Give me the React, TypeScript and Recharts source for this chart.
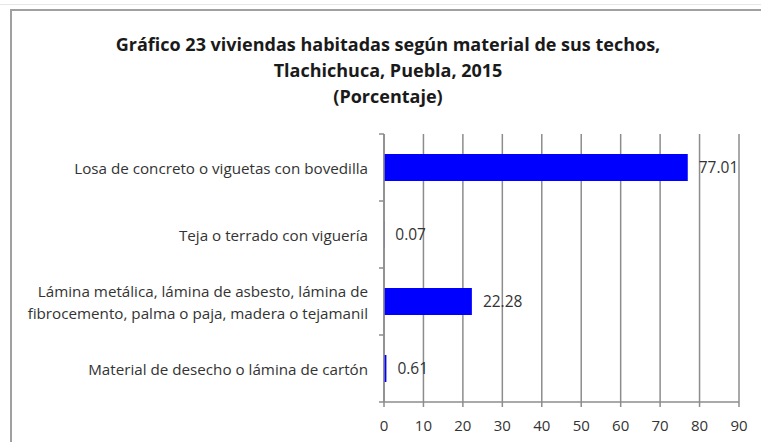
import React from "react";
import { BarChart, Bar, XAxis, YAxis, CartesianGrid, LabelList } from "recharts";

const categories = [
  "Losa de concreto o viguetas con bovedilla",
  "Teja o terrado con viguería",
  "Lámina metálica, lámina de asbesto, lámina de\nfibrocemento, palma o paja, madera o tejamanil",
  "Material de desecho o lámina de cartón",
];
const values = [77.01, 0.07, 22.28, 0.61];
const xTicks = [0, 10, 20, 30, 40, 50, 60, 70, 80, 90];
const titleLines = [
  "Gráfico 23 viviendas habitadas según material de sus techos,",
  "Tlachichuca, Puebla, 2015",
  "(Porcentaje)",
];

const data = categories.map((c, i) => ({ name: c, value: values[i] }));

const W = 761;
const H = 442;
const M = { top: 134, right: 22, bottom: 0, left: 0 };
const Y_W = 384;
const X_H = 40;
const plotH = H - M.top - M.bottom - X_H;
const halfBand = plotH / categories.length / 2;
const FONT = "'Open Sans', sans-serif";
const AXIS = "#8c8c8c";

const CatTick = (props: any) => {
  const { y, payload, index } = props;
  const lines = String(payload.value).split("\n");
  const lh = 22;
  const start = y - ((lines.length - 1) * lh) / 2;
  const ax = Y_W + M.left;
  return (
    <g>
      <line x1={ax - 5} x2={ax} y1={y - halfBand} y2={y - halfBand} stroke={AXIS} strokeWidth={1.5} />
      {index === categories.length - 1 && (
        <line x1={ax - 5} x2={ax} y1={y + halfBand} y2={y + halfBand} stroke={AXIS} strokeWidth={1.5} />
      )}
      <text x={ax - 16} y={start} textAnchor="end" dominantBaseline="central" fontFamily={FONT} fontSize={15.2} fill="#333">
        {lines.map((l, i) => (
          <tspan key={i} x={ax - 16} dy={i === 0 ? 0 : lh}>
            {l}
          </tspan>
        ))}
      </text>
    </g>
  );
};

export default function App() {
  return (
    <div style={{ position: "absolute", left: 0, top: 0, width: W, height: H, background: "#fff", overflow: "hidden" }}>
      <div style={{ position: "absolute", left: 0, top: 4, width: W, height: 1, background: "#e6e6e6" }} />
      <div
        style={{
          position: "absolute",
          left: 10,
          top: 9,
          width: W,
          height: H,
          borderLeft: "2px solid #a0a0a0",
          borderTop: "2px solid #a0a0a0",
        }}
      />
      <div
        style={{
          position: "absolute",
          left: 0,
          top: 31,
          width: 776,
          textAlign: "center",
          fontFamily: FONT,
          fontWeight: 700,
          fontSize: 18,
          lineHeight: "26px",
          color: "#1a1a1a",
        }}
      >
        {titleLines.map((t, i) => (
          <div key={i}>{t}</div>
        ))}
      </div>
      <div style={{ position: "absolute", left: 0, top: 0 }}>
        <BarChart width={W} height={H} data={data} layout="vertical" margin={M}>
          <CartesianGrid horizontal={false} vertical={true} stroke={AXIS} strokeWidth={1.5} />
          <XAxis
            type="number"
            domain={[0, 90]}
            ticks={xTicks}
            interval={0}
            height={X_H}
            stroke={AXIS}
            strokeWidth={1.5}
            tickSize={5}
            tickMargin={13}
            tick={{ fontFamily: FONT, fontSize: 15, fill: "#333" }}
          />
          <YAxis
            type="category"
            dataKey="name"
            width={Y_W}
            stroke={AXIS}
            strokeWidth={1.5}
            tickLine={false}
            tick={<CatTick />}
            interval={0}
          />
          <Bar dataKey="value" fill="#0000ff" barSize={27} isAnimationActive={false}>
            <LabelList
              dataKey="value"
              position="right"
              offset={11}
              fontFamily={FONT}
              fontSize={15.5}
              fill="#333"
              formatter={(v: any) => Number(v).toFixed(2)}
            />
          </Bar>
        </BarChart>
      </div>
    </div>
  );
}
